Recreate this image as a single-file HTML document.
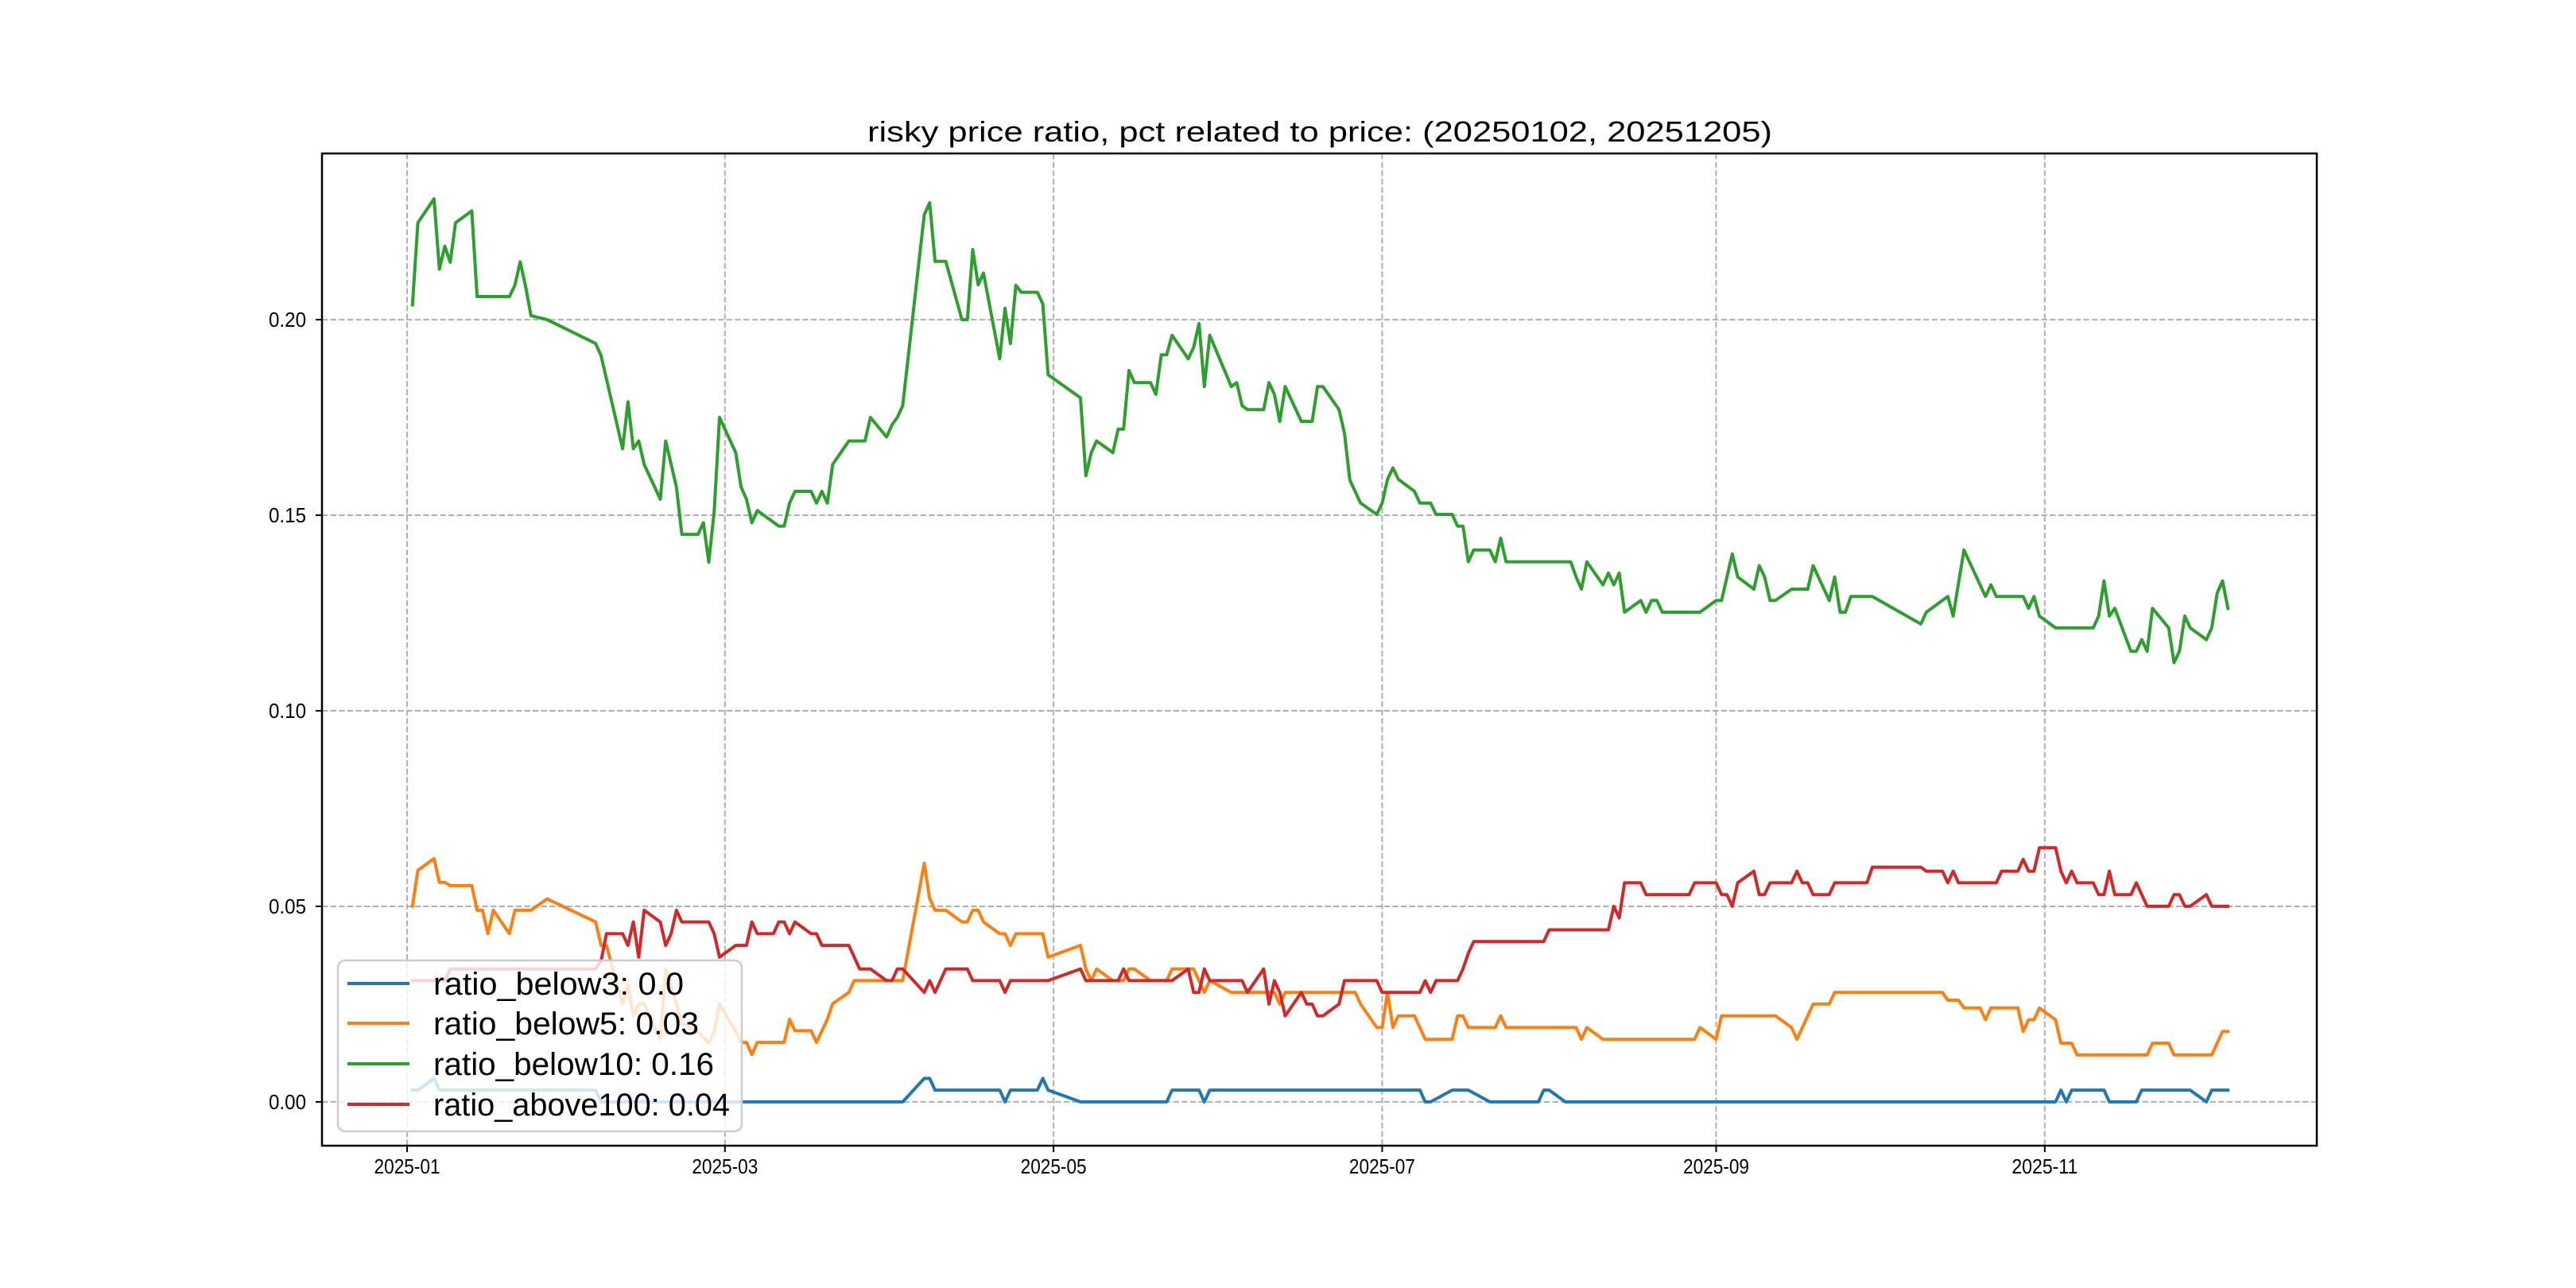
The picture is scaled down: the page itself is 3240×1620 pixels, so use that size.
<!DOCTYPE html>
<html><head><meta charset="utf-8"><style>
html,body{margin:0;padding:0;background:#fff;}
svg{display:block;}
text{font-family:"Liberation Sans","Noto Sans CJK SC",sans-serif;fill:#000;}
</style></head>
<body>
<svg id="chart" width="3240" height="1620" viewBox="0 0 3240 1620" xmlns="http://www.w3.org/2000/svg">
<rect x="0" y="0" width="3240" height="1620" fill="#fff"/>
<text x="1660" y="178" font-size="36" text-anchor="middle" textLength="1138" lengthAdjust="spacingAndGlyphs">risky price ratio, pct related to price: (20250102, 20251205)</text>
<g id="grid"></g>
<g id="ticks"></g>
<g id="series"></g>
<rect x="405" y="193" width="2509" height="1248" fill="none" stroke="#000" stroke-width="2.5"/>
<g id="legend">
<rect x="425" y="1208" width="508" height="215" rx="9" fill="#fff" fill-opacity="0.8" stroke="#cccccc" stroke-width="2.5"/>
<line x1="437" y1="1237" x2="515" y2="1237" stroke="#1f77b4" stroke-width="4"/>
<text x="545" y="1251" font-size="40" textLength="315" lengthAdjust="spacingAndGlyphs">ratio_below3: 0.0</text>
<line x1="437" y1="1287" x2="515" y2="1287" stroke="#ff7f0e" stroke-width="4"/>
<text x="545" y="1301" font-size="40" textLength="334" lengthAdjust="spacingAndGlyphs">ratio_below5: 0.03</text>
<line x1="437" y1="1338" x2="515" y2="1338" stroke="#2ca02c" stroke-width="4"/>
<text x="545" y="1352" font-size="40" textLength="353" lengthAdjust="spacingAndGlyphs">ratio_below10: 0.16</text>
<line x1="437" y1="1389" x2="515" y2="1389" stroke="#d62728" stroke-width="4"/>
<text x="545" y="1403" font-size="40" textLength="373" lengthAdjust="spacingAndGlyphs">ratio_above100: 0.04</text>
</g>
</svg>
<script>
// ---- data ----
const xTickLabels = ["2025-01","2025-03","2025-05","2025-07","2025-09","2025-11"];
const yTickValues = [0.00,0.05,0.10,0.15,0.20];
const yTickLabels = ["0.00","0.05","0.10","0.15","0.20"];

const below10Dates = ["01-02","01-03","01-06","01-07","01-08","01-09","01-10","01-13","01-14","01-20","01-21","01-22","01-23","01-24","01-27","02-05","02-06","02-10","02-11","02-12","02-13","02-14","02-17","02-18","02-20","02-21","02-24","02-25","02-26","02-27","02-28","03-03","03-04","03-05","03-06","03-07","03-11","03-12","03-13","03-14","03-17","03-18","03-19","03-20","03-21","03-24","03-27","03-28","03-31","04-01","04-02","04-03","04-07","04-08","04-09","04-11","04-14","04-15","04-16","04-17","04-18","04-21","04-22","04-23","04-24","04-25","04-28","04-29","04-30","05-06","05-07","05-08","05-09","05-12","05-13","05-14","05-15","05-16","05-19","05-20","05-21","05-22","05-23","05-26","05-27","05-28","05-29","05-30","06-03","06-04","06-05","06-06","06-09","06-10","06-11","06-12","06-13","06-16","06-18","06-19","06-20","06-23","06-24","06-25","06-27","06-30","07-01","07-02","07-03","07-04","07-07","07-08","07-10","07-11","07-14","07-15","07-16","07-17","07-18","07-21","07-22","07-23","07-24","08-05","08-06","08-07","08-08","08-11","08-12","08-13","08-14","08-15","08-18","08-19","08-20","08-21","08-22","08-29","09-01","09-02","09-04","09-05","09-08","09-09","09-10","09-11","09-12","09-15","09-18","09-19","09-22","09-23","09-24","09-25","09-26","09-30","10-09","10-10","10-14","10-15","10-17","10-21","10-22","10-23","10-28","10-29","10-30","10-31","11-03","11-10","11-11","11-12","11-13","11-14","11-17","11-18","11-19","11-20","11-21","11-24","11-25","11-26","11-27","11-28","12-01","12-02","12-03","12-04","12-05"];
const below10Values = [0.2038,0.2248,0.2309,0.2129,0.2188,0.2147,0.2248,0.2278,0.2059,0.2059,0.2088,0.2148,0.2085,0.2010,0.2000,0.1939,0.1908,0.1670,0.1790,0.1670,0.1690,0.1630,0.1541,0.1690,0.1572,0.1451,0.1451,0.1481,0.1380,0.1510,0.1750,0.1660,0.1572,0.1541,0.1481,0.1512,0.1472,0.1472,0.1531,0.1561,0.1561,0.1531,0.1561,0.1531,0.1630,0.1690,0.1690,0.1750,0.1700,0.1731,0.1750,0.1780,0.2268,0.2299,0.2149,0.2149,0.2000,0.2000,0.2179,0.2089,0.2119,0.1900,0.2029,0.1939,0.2088,0.2070,0.2070,0.2040,0.1859,0.1800,0.1601,0.1660,0.1690,0.1660,0.1720,0.1720,0.1870,0.1839,0.1839,0.1809,0.1910,0.1910,0.1960,0.1900,0.1929,0.1990,0.1829,0.1960,0.1829,0.1839,0.1780,0.1770,0.1770,0.1839,0.1809,0.1740,0.1829,0.1740,0.1740,0.1829,0.1829,0.1770,0.1710,0.1590,0.1531,0.1502,0.1531,0.1592,0.1621,0.1592,0.1561,0.1531,0.1531,0.1502,0.1502,0.1472,0.1472,0.1381,0.1411,0.1411,0.1381,0.1441,0.1381,0.1381,0.1342,0.1311,0.1381,0.1322,0.1352,0.1322,0.1352,0.1252,0.1282,0.1252,0.1282,0.1282,0.1252,0.1252,0.1282,0.1282,0.1401,0.1342,0.1311,0.1371,0.1342,0.1282,0.1282,0.1311,0.1311,0.1371,0.1282,0.1342,0.1252,0.1252,0.1292,0.1292,0.1222,0.1252,0.1292,0.1242,0.1411,0.1292,0.1322,0.1292,0.1292,0.1262,0.1292,0.1242,0.1212,0.1212,0.1242,0.1332,0.1242,0.1262,0.1152,0.1152,0.1182,0.1152,0.1262,0.1212,0.1123,0.1152,0.1242,0.1212,0.1182,0.1212,0.1301,0.1332,0.1262];

const below5Dates = ["01-02","01-03","01-06","01-07","01-08","01-09","01-13","01-14","01-15","01-16","01-17","01-20","01-21","01-24","01-27","02-05","02-06","02-07","02-10","02-11","02-12","02-13","02-14","02-17","02-18","02-20","02-21","02-24","02-26","02-27","02-28","03-03","03-04","03-05","03-06","03-07","03-12","03-13","03-14","03-17","03-18","03-20","03-21","03-24","03-25","04-03","04-07","04-08","04-09","04-11","04-14","04-15","04-16","04-17","04-18","04-21","04-22","04-23","04-24","04-29","04-30","05-06","05-07","05-08","05-09","05-12","05-14","05-15","05-16","05-19","05-22","05-23","05-27","05-29","05-30","06-03","06-11","06-12","06-13","06-26","06-27","06-30","07-01","07-02","07-03","07-04","07-07","07-09","07-14","07-15","07-16","07-17","07-22","07-23","07-24","08-06","08-07","08-08","08-11","08-28","08-29","09-01","09-02","09-12","09-15","09-16","09-19","09-22","09-23","10-13","10-14","10-16","10-17","10-20","10-21","10-22","10-27","10-28","10-29","10-30","10-31","11-03","11-04","11-06","11-07","11-20","11-21","11-24","11-25","12-02","12-04","12-05"];
const below5Values = [0.050,0.0592,0.0622,0.0561,0.0561,0.0553,0.0553,0.049,0.049,0.043,0.049,0.043,0.049,0.049,0.0519,0.046,0.040,0.040,0.025,0.030,0.022,0.025,0.025,0.016,0.034,0.025,0.020,0.018,0.015,0.018,0.025,0.018,0.0152,0.0152,0.0121,0.0152,0.0152,0.0211,0.0182,0.0182,0.0152,0.0211,0.0251,0.028,0.031,0.031,0.061,0.052,0.049,0.049,0.046,0.046,0.049,0.049,0.046,0.043,0.043,0.040,0.043,0.043,0.037,0.040,0.034,0.031,0.034,0.031,0.031,0.034,0.034,0.031,0.031,0.034,0.034,0.028,0.031,0.028,0.028,0.025,0.028,0.028,0.025,0.019,0.019,0.028,0.019,0.022,0.022,0.016,0.016,0.022,0.022,0.019,0.019,0.022,0.019,0.019,0.016,0.019,0.016,0.016,0.019,0.016,0.022,0.022,0.019,0.016,0.025,0.025,0.028,0.028,0.026,0.026,0.024,0.024,0.021,0.024,0.024,0.018,0.021,0.021,0.024,0.021,0.015,0.015,0.012,0.012,0.015,0.015,0.012,0.012,0.018,0.018];

const above100Dates = ["01-02","01-08","01-09","02-05","02-06","02-07","02-10","02-11","02-12","02-13","02-14","02-17","02-18","02-19","02-20","02-21","02-26","02-27","02-28","03-03","03-05","03-06","03-07","03-10","03-11","03-12","03-13","03-14","03-17","03-18","03-19","03-24","03-26","03-28","03-31","04-01","04-02","04-03","04-07","04-08","04-09","04-11","04-15","04-16","04-21","04-22","04-23","04-30","05-06","05-07","05-13","05-14","05-15","05-23","05-26","05-27","05-28","05-29","05-30","06-05","06-06","06-09","06-10","06-11","06-12","06-13","06-16","06-17","06-18","06-19","06-20","06-23","06-24","06-30","07-01","07-08","07-09","07-10","07-11","07-15","07-16","07-17","07-18","07-31","08-01","08-12","08-13","08-14","08-15","08-18","08-19","08-27","08-28","09-01","09-02","09-03","09-04","09-05","09-08","09-09","09-10","09-11","09-15","09-16","09-17","09-18","09-19","09-22","09-23","09-29","09-30","10-09","10-10","10-13","10-14","10-15","10-16","10-23","10-24","10-27","10-28","10-29","10-30","10-31","11-03","11-04","11-05","11-06","11-07","11-10","11-11","11-12","11-13","11-14","11-17","11-18","11-20","11-24","11-25","11-26","11-27","11-28","12-01","12-02","12-05"];
const above100Values = [0.031,0.031,0.034,0.034,0.036,0.043,0.043,0.040,0.046,0.037,0.049,0.046,0.040,0.043,0.049,0.046,0.046,0.043,0.037,0.040,0.040,0.046,0.043,0.043,0.046,0.046,0.043,0.046,0.043,0.043,0.040,0.040,0.034,0.034,0.031,0.031,0.034,0.034,0.028,0.031,0.028,0.034,0.034,0.031,0.031,0.028,0.031,0.031,0.034,0.031,0.031,0.034,0.031,0.031,0.034,0.028,0.028,0.034,0.031,0.031,0.028,0.034,0.025,0.031,0.028,0.022,0.028,0.025,0.025,0.022,0.022,0.025,0.031,0.031,0.028,0.028,0.031,0.028,0.031,0.031,0.034,0.038,0.041,0.041,0.044,0.044,0.050,0.047,0.056,0.056,0.053,0.053,0.056,0.056,0.053,0.053,0.050,0.056,0.059,0.053,0.053,0.056,0.056,0.059,0.056,0.056,0.053,0.053,0.056,0.056,0.060,0.060,0.059,0.059,0.056,0.059,0.056,0.056,0.059,0.059,0.062,0.059,0.059,0.065,0.065,0.059,0.056,0.059,0.056,0.056,0.053,0.053,0.059,0.053,0.053,0.056,0.050,0.050,0.053,0.053,0.050,0.050,0.053,0.050,0.050];

const below3Dates = ["01-02","01-03","01-06","01-07","02-05","02-06","04-03","04-07","04-08","04-09","04-21","04-22","04-23","04-28","04-29","04-30","05-06","05-22","05-23","05-28","05-29","05-30","07-08","07-09","07-10","07-14","07-17","07-21","07-30","07-31","08-01","08-04","11-03","11-04","11-05","11-06","11-12","11-13","11-18","11-19","11-28","12-01","12-02","12-05"];
const below3Values = [0.003,0.003,0.006,0.003,0.003,0.000,0.000,0.006,0.006,0.003,0.003,0.000,0.003,0.003,0.006,0.003,0.000,0.000,0.003,0.003,0.000,0.003,0.003,0.000,0.000,0.003,0.003,0.000,0.000,0.003,0.003,0.000,0.000,0.003,0.000,0.003,0.003,0.000,0.000,0.003,0.003,0.000,0.003,0.003];

// ---- axes ----
const PX_L = 405, PX_R = 2914, PX_T = 193, PX_B = 1441;
const DAY_MIN = -15.8, DAY_MAX = 354.5;
const V_MIN = -0.0112, V_MAX = 0.2425;
function dayOf(s){ const p = s.split("-").map(Number); const m = p.length===3 ? [p[1],p[2]] : p; return (Date.UTC(2025,m[0]-1,m[1]) - Date.UTC(2025,0,1))/86400000; }
function xScale(s){ return PX_L + (dayOf(s)-DAY_MIN)/(DAY_MAX-DAY_MIN)*(PX_R-PX_L); }
function yScale(v){ return PX_B - (v-V_MIN)/(V_MAX-V_MIN)*(PX_B-PX_T); }

const NS = "http://www.w3.org/2000/svg";
const grid = document.getElementById("grid");
const ticks = document.getElementById("ticks");
const series = document.getElementById("series");

xTickLabels.forEach(function(lbl){
  const x = xScale(lbl + "-01");
  const g = document.createElementNS(NS,"line");
  
  
  g.setAttribute("x1",x); g.setAttribute("x2",x); g.setAttribute("y1",PX_T); g.setAttribute("y2",PX_B);
  g.setAttribute("stroke","#b0b0b0"); g.setAttribute("stroke-width","2"); g.setAttribute("stroke-dasharray","7.4,3.2");
  grid.appendChild(g);
  const t = document.createElementNS(NS,"line");
  
  
  t.setAttribute("x1",x); t.setAttribute("x2",x); t.setAttribute("y1",PX_B); t.setAttribute("y2",PX_B+8);
  t.setAttribute("stroke","#000"); t.setAttribute("stroke-width","2");
  ticks.appendChild(t);
  const tx = document.createElementNS(NS,"text");
  
  
  tx.setAttribute("x",x); tx.setAttribute("y",1476); tx.setAttribute("font-size","26");
  tx.setAttribute("text-anchor","middle"); tx.setAttribute("textLength","83"); tx.setAttribute("lengthAdjust","spacingAndGlyphs");
  tx.textContent = lbl;
  ticks.appendChild(tx);
});

yTickValues.forEach(function(v,i){
  const y = yScale(v);
  const g = document.createElementNS(NS,"line");
  
  
  g.setAttribute("x1",PX_L); g.setAttribute("x2",PX_R); g.setAttribute("y1",y); g.setAttribute("y2",y);
  g.setAttribute("stroke","#b0b0b0"); g.setAttribute("stroke-width","2"); g.setAttribute("stroke-dasharray","7.4,3.2");
  grid.appendChild(g);
  const t = document.createElementNS(NS,"line");
  
  
  t.setAttribute("x1",PX_L-8); t.setAttribute("x2",PX_L); t.setAttribute("y1",y); t.setAttribute("y2",y);
  t.setAttribute("stroke","#000"); t.setAttribute("stroke-width","2");
  ticks.appendChild(t);
  const tx = document.createElementNS(NS,"text");
  
  
  tx.setAttribute("x",PX_L-20); tx.setAttribute("y",y+9); tx.setAttribute("font-size","26");
  tx.setAttribute("text-anchor","end"); tx.setAttribute("textLength","47"); tx.setAttribute("lengthAdjust","spacingAndGlyphs");
  tx.textContent = yTickLabels[i];
  ticks.appendChild(tx);
});

function drawLine(dates, values, color, name){
  let d = "";
  dates.forEach(function(s,i){ d += (i?"L":"M") + xScale(s).toFixed(1) + "," + yScale(values[i]).toFixed(1); });
  const p = document.createElementNS(NS,"path");
  
  
  p.setAttribute("d",d); p.setAttribute("fill","none"); p.setAttribute("stroke",color);
  p.setAttribute("stroke-width","4"); p.setAttribute("stroke-linejoin","round"); p.setAttribute("stroke-linecap","square");
  series.appendChild(p);
}
drawLine(below3Dates, below3Values, "#1f77b4", "line-ratio-below3");
drawLine(below5Dates, below5Values, "#ff7f0e", "line-ratio-below5");
drawLine(below10Dates, below10Values, "#2ca02c", "line-ratio-below10");
drawLine(above100Dates, above100Values, "#d62728", "line-ratio-above100");
</script>
</body></html>
